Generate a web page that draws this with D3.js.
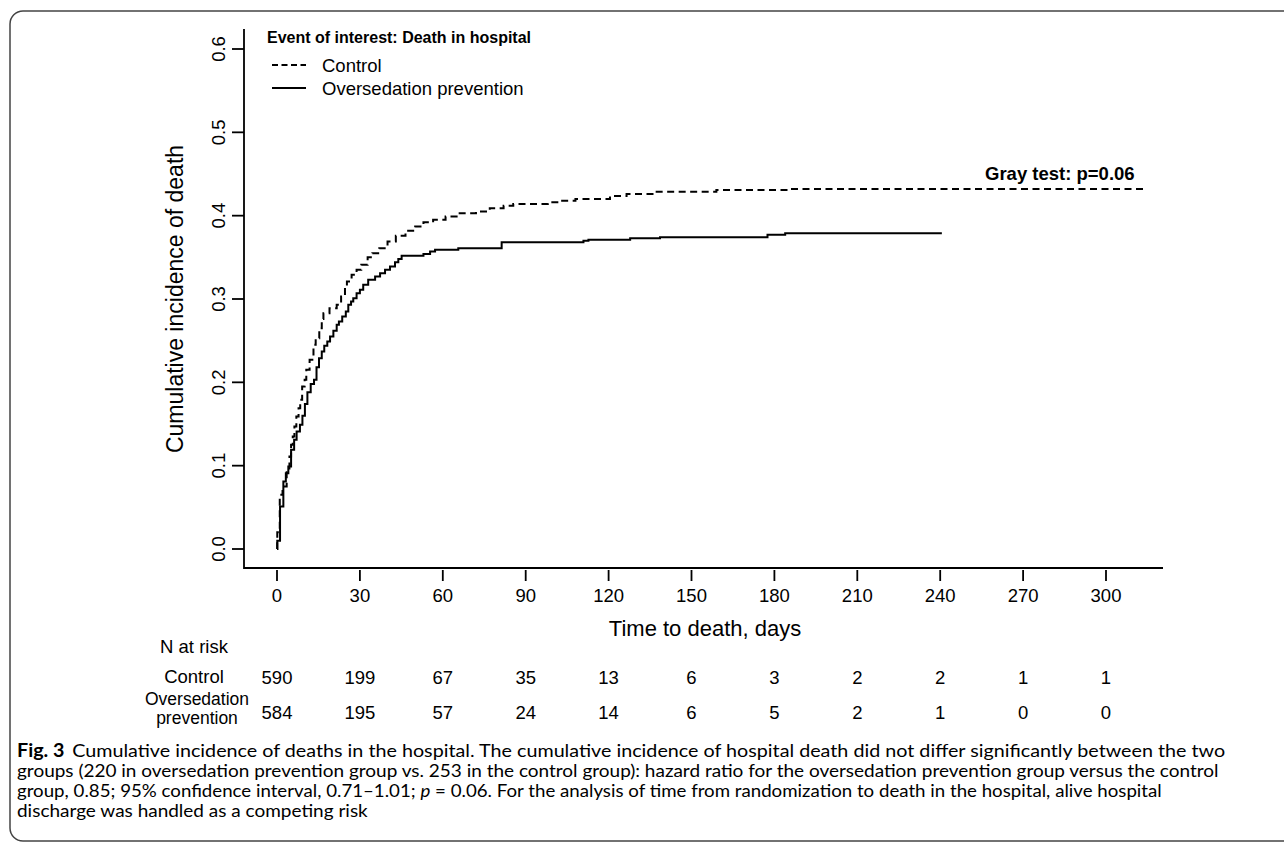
<!DOCTYPE html>
<html>
<head>
<meta charset="utf-8">
<script src="https://cdn.jsdelivr.net/npm/d3@7"></script>
<style>
  body { margin: 0; background: #fff; }
  text { font-family: "Liberation Sans", Arial, sans-serif; fill: #000; }
</style>
</head>
<body>
<div id="chart"></div>
<script>
// data
const xTicks = [0, 30, 60, 90, 120, 150, 180, 210, 240, 270, 300];
const yTicks = [0.0, 0.1, 0.2, 0.3, 0.4, 0.5, 0.6];
const groups = ["Control", "Oversedation prevention"];

// cumulative incidence steps [day, value]
const controlSteps = [[0,0],[0.1,0.02],[1,0.065],[2,0.075],[3.5,0.095],[4.5,0.111],[5.1,0.125],[5.7,0.135],
  [6.3,0.147],[7,0.159],[7.8,0.169],[8.4,0.179],[9.1,0.195],[10,0.203],[10.6,0.215],[11.8,0.227],[13.2,0.245],
  [14,0.253],[15.3,0.265],[16.2,0.276],[16.8,0.283],[19,0.289],[21.6,0.293],[23.2,0.303],[24.6,0.312],
  [25.3,0.321],[27,0.329],[28.8,0.335],[30.5,0.341],[32.8,0.35],[34.5,0.355],[37,0.361],[40,0.369],
  [43,0.376],[46.5,0.382],[50,0.387],[53,0.392],[56.5,0.395],[61,0.399],[65,0.403],[72,0.405],[77,0.409],
  [82,0.412],[85.5,0.414],[98,0.416],[102,0.418],[108,0.42],[120.5,0.4236],[126.5,0.426],[137,0.4288],
  [159,0.4308],[185,0.432],[315,0.432]];
const preventionSteps = [[0,0],[0.1,0.01],[1.1,0.051],[2.3,0.081],[3.2,0.091],[4.1,0.099],[5.1,0.119],
  [6.2,0.131],[7.1,0.141],[8.3,0.149],[9.2,0.16],[10.1,0.174],[11,0.188],[12.2,0.198],[13.4,0.203],
  [14.3,0.218],[15.2,0.229],[16.2,0.237],[17.1,0.244],[18.2,0.249],[19.2,0.255],[20.4,0.262],[21.6,0.269],
  [22.4,0.273],[23.6,0.279],[24.9,0.285],[25.8,0.293],[26.8,0.297],[27.6,0.301],[28.8,0.307],[30,0.311],
  [31.2,0.317],[33,0.323],[35.5,0.327],[37.3,0.331],[39.1,0.335],[40.9,0.339],[42.7,0.344],[43.9,0.348],
  [45.1,0.352],[53,0.354],[55.4,0.357],[57.2,0.359],[65.6,0.361],[81.3,0.368],[110.9,0.37],[112.7,0.371],
  [127.8,0.373],[138.6,0.374],[177.5,0.377],[183.9,0.379],[240.6,0.379]];

const atRiskControl = [590, 199, 67, 35, 13, 6, 3, 2, 2, 1, 1];
const atRiskPrevention = [584, 195, 57, 24, 14, 6, 5, 2, 1, 0, 0];

const width = 1284, height = 850;
const svg = d3.select("#chart").append("svg")
  .attr("width", width).attr("height", height);

// frame
svg.append("rect")
  .attr("x", 10).attr("y", 11).attr("width", 1300).attr("height", 830)
  .attr("rx", 13).attr("ry", 13)
  .attr("fill", "none").attr("stroke", "#444").attr("stroke-width", 1.5);

// scales
const x = d3.scaleLinear().domain([0, 300]).range([277, 1106]);
const y = d3.scaleLinear().domain([0, 0.6]).range([549, 49]);
const plotLeft = 244, plotRight = 1163, plotTop = 29, plotBottom = 568;

// L-shaped box
svg.append("path")
  .attr("d", `M${plotLeft},${plotTop}V${plotBottom}H${plotRight}`)
  .attr("fill", "none").attr("stroke", "#000").attr("stroke-width", 1.8);

// y axis ticks + labels
const yAx = svg.append("g");
yAx.selectAll("line").data(yTicks).enter().append("line")
  .attr("x1", plotLeft - 12).attr("x2", plotLeft)
  .attr("y1", d => y(d)).attr("y2", d => y(d))
  .attr("stroke", "#000").attr("stroke-width", 1.8);
yAx.selectAll("text").data(yTicks).enter().append("text")
  .attr("transform", d => `translate(225,${y(d)}) rotate(-90)`)
  .attr("text-anchor", "middle")
  .style("font-size", "18.5px")
  .text(d => d.toFixed(1));

// x axis ticks + labels
const xAx = svg.append("g");
xAx.selectAll("line").data(xTicks).enter().append("line")
  .attr("x1", d => x(d)).attr("x2", d => x(d))
  .attr("y1", plotBottom + 2).attr("y2", 581)
  .attr("stroke", "#000").attr("stroke-width", 1.8);
xAx.selectAll("text").data(xTicks).enter().append("text")
  .attr("x", d => x(d)).attr("y", 602)
  .attr("text-anchor", "middle")
  .style("font-size", "18.5px")
  .text(d => d);

// axis titles
svg.append("text")
  .attr("transform", "translate(183,299) rotate(-90)")
  .attr("text-anchor", "middle")
  .style("font-size", "23px")
  .text("Cumulative incidence of death");
svg.append("text")
  .attr("x", 705).attr("y", 636)
  .attr("text-anchor", "middle")
  .style("font-size", "22px")
  .text("Time to death, days");

// curves
const line = d3.line()
  .x(d => x(d[0])).y(d => y(d[1]))
  .curve(d3.curveStepAfter);
svg.append("path").datum(controlSteps)
  .attr("d", line).attr("fill", "none")
  .attr("stroke", "#000").attr("stroke-width", 2)
  .attr("stroke-dasharray", "7,4.5");
svg.append("path").datum(preventionSteps)
  .attr("d", line).attr("fill", "none")
  .attr("stroke", "#000").attr("stroke-width", 2);

// legend
svg.append("text")
  .attr("x", 267).attr("y", 43)
  .style("font-size", "16px").style("font-weight", "bold")
  .text("Event of interest: Death in hospital");
const leg = svg.append("g").selectAll("g").data(groups).enter().append("g");
leg.append("line")
  .attr("x1", 272).attr("x2", 306)
  .attr("y1", (d, i) => 65 + i * 23).attr("y2", (d, i) => 65 + i * 23)
  .attr("stroke", "#000").attr("stroke-width", 2)
  .attr("stroke-dasharray", (d, i) => i === 0 ? "6,3.5" : null);
leg.append("text")
  .attr("x", 322).attr("y", (d, i) => 72 + i * 23)
  .style("font-size", "18.5px")
  .text(d => d);

// gray test
svg.append("text")
  .attr("x", 985).attr("y", 180)
  .style("font-size", "18.5px").style("font-weight", "bold")
  .text("Gray test: p=0.06");

// number at risk
svg.append("text").attr("x", 194).attr("y", 653)
  .attr("text-anchor", "middle").style("font-size", "18.5px").text("N at risk");
svg.append("text").attr("x", 194).attr("y", 683)
  .attr("text-anchor", "middle").style("font-size", "18.5px").text("Control");
svg.append("text").attr("x", 197).attr("y", 705)
  .attr("text-anchor", "middle").style("font-size", "17.5px").text("Oversedation");
svg.append("text").attr("x", 197).attr("y", 724)
  .attr("text-anchor", "middle").style("font-size", "17.5px").text("prevention");

svg.append("g").selectAll("text").data(atRiskControl).enter().append("text")
  .attr("x", (d, i) => x(xTicks[i])).attr("y", 684)
  .attr("text-anchor", "middle").style("font-size", "18.5px")
  .text(d => d);
svg.append("g").selectAll("text").data(atRiskPrevention).enter().append("text")
  .attr("x", (d, i) => x(xTicks[i])).attr("y", 719)
  .attr("text-anchor", "middle").style("font-size", "18.5px")
  .text(d => d);

// caption, each line fitted to the width it has in the figure
const capFont = "18px";
const capLeft = 17;
const l1 = svg.append("text").attr("y", 757).style("font-size", capFont).style("font-family", "Lato");
l1.append("tspan").style("font-weight", "bold").text("Fig. 3");
l1.append("tspan").attr("dx", 7).text("Cumulative incidence of deaths in the hospital. The cumulative incidence of hospital death did not differ significantly between the two");
const l2 = svg.append("text").attr("y", 777).style("font-size", capFont).style("font-family", "Lato")
  .text("groups (220 in oversedation prevention group vs. 253 in the control group): hazard ratio for the oversedation prevention group versus the control");
const l3 = svg.append("text").attr("y", 797).style("font-size", capFont).style("font-family", "Lato");
l3.append("tspan").text("group, 0.85; 95% confidence interval, 0.71\u20131.01; ");
l3.append("tspan").style("font-style", "italic").text("p");
l3.append("tspan").text(" = 0.06. For the analysis of time from randomization to death in the hospital, alive hospital");
const l4 = svg.append("text").attr("y", 817).style("font-size", capFont).style("font-family", "Lato")
  .text("discharge was handled as a competing risk");

[[l1, 1218], [l2, 1219], [l3, 1163], [l4, 368]].forEach(([t, right]) => {
  const yy = +t.attr("y");
  const k = (right - capLeft) / t.node().getComputedTextLength();
  t.attr("y", null).attr("transform", `translate(${capLeft},${yy}) scale(${k},1)`);
});
</script>
</body>
</html>
